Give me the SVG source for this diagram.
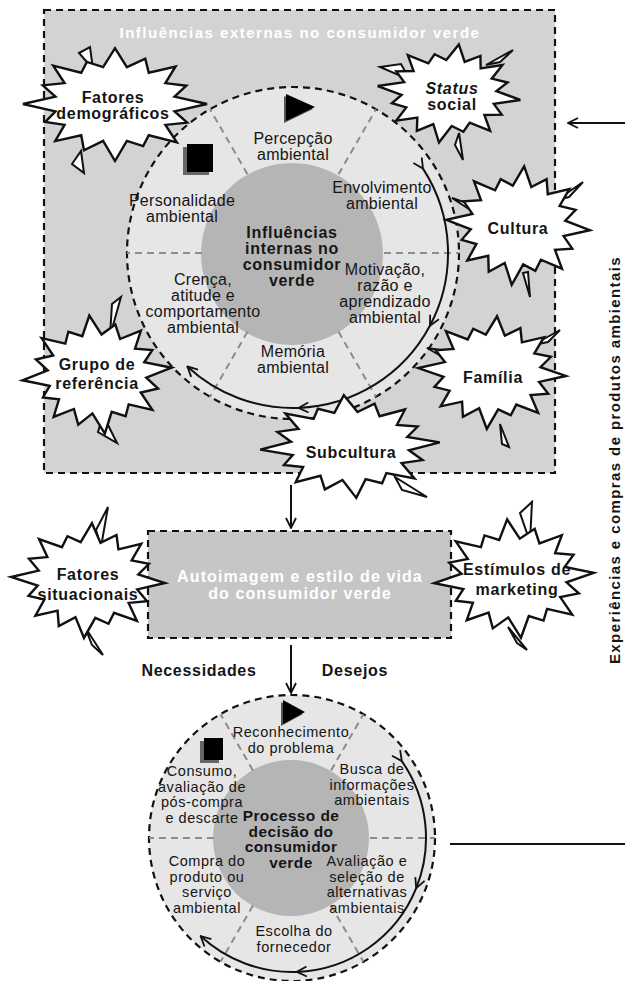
<svg xmlns="http://www.w3.org/2000/svg" xmlns:xlink="http://www.w3.org/1999/xlink" width="625" height="981" viewBox="0 0 625 981">
<style>
.t{font-family:"Liberation Sans",Arial,sans-serif;font-size:16px;letter-spacing:0.3px;text-anchor:middle;fill:#151515}
.s{font-size:14.5px;letter-spacing:0.55px}
.b{font-weight:bold;letter-spacing:0.7px}
.bs{font-weight:bold;font-size:15.5px;letter-spacing:0.4px}
.w{fill:#ffffff;font-weight:bold}
.dash{fill:none;stroke:#111;stroke-width:2.2;stroke-dasharray:7 5}
.div{stroke:#8c8c8c;stroke-width:2;stroke-dasharray:7 5}
.arc{fill:none;stroke:#111;stroke-width:2;marker-start:url(#ah);marker-mid:url(#ah);marker-end:url(#ah)}
.ln{fill:none;stroke:#111;stroke-width:2}
.burst{fill:#fff;stroke:#111;stroke-width:2.4;stroke-linejoin:miter;vector-effect:non-scaling-stroke}
.shard{fill:#fff;stroke:#111;stroke-width:2;stroke-linejoin:miter}
</style>
<defs>
<marker id="ah" viewBox="0 0 12 12" refX="11" refY="6" markerWidth="12" markerHeight="12" markerUnits="userSpaceOnUse" orient="auto"><path d="M1,1 L11,6 L1,11" fill="none" stroke="#111" stroke-width="1.8"/></marker>
<polygon id="burst" class="burst" points="100,0 64.7,12.9 78.5,32.6 54.8,36.7 67.2,67.2 36.7,54.8 30.6,73.9 12.9,64.7 0,100 -12.9,64.7 -33.7,81.3 -36.7,54.8 -65,65 -54.8,36.7 -75.8,31.4 -64.7,12.9 -100,0 -64.7,-12.9 -78.5,-32.6 -54.8,-36.7 -67.2,-67.2 -36.7,-54.8 -30.6,-73.9 -12.9,-64.7 0,-98 12.9,-64.7 32.9,-79.5 36.7,-54.8 65.8,-65.8 54.8,-36.7 77.6,-32.1 64.7,-12.9"/>
</defs>

<!-- external influences box -->
<g id="externas">
<rect x="44" y="10" width="511" height="463" fill="#d3d3d3"/>
<rect x="44" y="10" width="511" height="463" class="dash"/>
<text class="t w" x="300" y="38" style="font-size:15px;letter-spacing:1.5px">Influências externas no consumidor verde</text>
</g>

<!-- internal influences circle -->
<g id="internas">
<circle cx="293" cy="253" r="166" fill="#e6e6e6"/>
<circle cx="293" cy="253" r="166" class="dash"/>
<circle cx="292" cy="254" r="91" fill="#b5b5b5"/>
<line class="div" x1="384" y1="253" x2="459" y2="253"/>
<line class="div" x1="338.5" y1="331.8" x2="376" y2="396.8"/>
<line class="div" x1="247.5" y1="331.8" x2="210" y2="396.8"/>
<line class="div" x1="202" y1="253" x2="127" y2="253"/>
<line class="div" x1="247.5" y1="174.2" x2="210" y2="109.2"/>
<line class="div" x1="338.5" y1="174.2" x2="376" y2="109.2"/>
<polygon points="284,96 313,109 284,123" fill="#555"/>
<polygon points="286,94 315,107 286,121" fill="#000"/>
<rect x="183" y="147" width="26" height="28" fill="#666"/>
<rect x="187" y="144" width="26" height="28" fill="#000"/>
<text class="t"><tspan x="293" y="144">Percepção</tspan><tspan x="293" y="160">ambiental</tspan></text>
<text class="t"><tspan x="382" y="193">Envolvimento</tspan><tspan x="382" y="209">ambiental</tspan></text>
<text class="t"><tspan x="182" y="206">Personalidade</tspan><tspan x="182" y="222">ambiental</tspan></text>
<text class="t"><tspan x="385" y="275">Motivação,</tspan><tspan x="385" y="291">razão e</tspan><tspan x="385" y="307">aprendizado</tspan><tspan x="385" y="323">ambiental</tspan></text>
<text class="t"><tspan x="203" y="285">Crença,</tspan><tspan x="203" y="301">atitude e</tspan><tspan x="203" y="317">comportamento</tspan><tspan x="203" y="333">ambiental</tspan></text>
<text class="t"><tspan x="293" y="357">Memória</tspan><tspan x="293" y="373">ambiental</tspan></text>
<text class="t b"><tspan x="292" y="238">Influências</tspan><tspan x="292" y="254">internas no</tspan><tspan x="292" y="270">consumidor</tspan><tspan x="292" y="286">verde</tspan></text>
</g>

<!-- middle box -->
<g id="autoimagem">
<rect x="148" y="531" width="303" height="107" fill="#c6c6c6"/>
<rect x="148" y="531" width="303" height="107" class="dash"/>
<text class="t w" style="letter-spacing:1.1px"><tspan x="300" y="582">Autoimagem e estilo de vida</tspan><tspan x="300" y="599">do consumidor verde</tspan></text>
</g>

<!-- decision process circle -->
<g id="processo">
<circle cx="292" cy="838" r="143" fill="#e6e6e6"/>
<circle cx="292" cy="838" r="143" class="dash"/>
<circle cx="291" cy="838" r="78" fill="#b5b5b5"/>
<line class="div" x1="370" y1="838" x2="435" y2="838"/>
<line class="div" x1="331" y1="905.5" x2="363.5" y2="961.8"/>
<line class="div" x1="253" y1="905.5" x2="220.5" y2="961.8"/>
<line class="div" x1="214" y1="838" x2="149" y2="838"/>
<line class="div" x1="253" y1="770.5" x2="220.5" y2="714.2"/>
<line class="div" x1="331" y1="770.5" x2="363.5" y2="714.2"/>
<polygon points="281,702 303,714 281,726" fill="#555"/>
<polygon points="283,700 305,712 283,724" fill="#000"/>
<rect x="200" y="741" width="19" height="22" fill="#666"/>
<rect x="204" y="738" width="19" height="22" fill="#000"/>
<text class="t s"><tspan x="291" y="737">Reconhecimento</tspan><tspan x="291" y="753">do problema</tspan></text>
<text class="t s"><tspan x="372" y="774">Busca de</tspan><tspan x="372" y="789.5">informações</tspan><tspan x="372" y="805">ambientais</tspan></text>
<text class="t s"><tspan x="367" y="866">Avaliação e</tspan><tspan x="367" y="881.5">seleção de</tspan><tspan x="367" y="897">alternativas</tspan><tspan x="367" y="912.5">ambientais</tspan></text>
<text class="t s"><tspan x="294" y="936">Escolha do</tspan><tspan x="294" y="951.5">fornecedor</tspan></text>
<text class="t s"><tspan x="207" y="866">Compra do</tspan><tspan x="207" y="881.5">produto ou</tspan><tspan x="207" y="897">serviço</tspan><tspan x="207" y="912.5">ambiental</tspan></text>
<text class="t s"><tspan x="202" y="776">Consumo,</tspan><tspan x="202" y="791.5">avaliação de</tspan><tspan x="202" y="807">pós-compra</tspan><tspan x="202" y="822.5">e descarte</tspan></text>
<text class="t bs"><tspan x="291" y="821">Processo de</tspan><tspan x="291" y="836.5">decisão do</tspan><tspan x="291" y="852">consumidor</tspan><tspan x="291" y="867.5">verde</tspan></text>
</g>

<!-- connectors -->
<g id="connectors">
<path class="arc" d="M423,168.6 A155,155 0 0 1 429.9,325.8 A155,155 0 0 1 298.4,407.9 A155,155 0 0 1 187.3,366.4"/>
<path class="arc" d="M401.8,761.1 A134,134 0 0 1 416.2,888.2 A134,134 0 0 1 296.7,971.9 A134,134 0 0 1 200.6,936"/>
<line class="ln" x1="291" y1="485" x2="291" y2="528" marker-end="url(#ah)"/>
<line class="ln" x1="291" y1="645" x2="291" y2="693" marker-end="url(#ah)"/>
<line class="ln" x1="625" y1="123" x2="568" y2="123" marker-end="url(#ah)"/>
<line class="ln" x1="450" y1="844" x2="625" y2="844"/>
<text class="t b" x="199" y="676">Necessidades</text>
<text class="t b" x="355" y="676">Desejos</text>
<text class="t b" transform="translate(620,460) rotate(-90)" style="font-size:15px;letter-spacing:1.4px" x="0" y="0">Experiências e compras de produtos ambientais</text>
</g>

<!-- bursts -->
<g id="fatores-demograficos">
<polygon class="shard" points="79,53 90,47 93,69"/>
<polygon class="shard" points="72,164 81,151 84,173"/>
<use xlink:href="#burst" href="#burst" transform="translate(115,104) scale(0.92,0.57)"/>
<text class="t b"><tspan x="113" y="103">Fatores</tspan><tspan x="113" y="119">demográficos</tspan></text>
</g>
<g id="status-social">
<polygon class="shard" points="380,67 401,64 410,80"/>
<polygon class="shard" points="486,65 513,50 500,62"/>
<polygon class="shard" points="455,145 459,133 463,160"/>
<use xlink:href="#burst" href="#burst" transform="translate(449,93) scale(0.72,0.5) rotate(8)"/>
<text class="t b"><tspan x="452" y="94" font-style="italic">Status</tspan><tspan x="452" y="110">social</tspan></text>
</g>
<g id="cultura">
<polygon class="shard" points="452,198 470,204 478,215"/>
<polygon class="shard" points="557,200 583,182 569,197"/>
<polygon class="shard" points="523,273 528,272 530,297"/>
<use xlink:href="#burst" href="#burst" transform="translate(518,225) scale(0.72,0.6) rotate(5)"/>
<text class="t b" x="518" y="234">Cultura</text>
</g>
<g id="grupo-referencia">
<polygon class="shard" points="112,304 121,297 110,336"/>
<polygon class="shard" points="98,432 103,415 117,443"/>
<use xlink:href="#burst" href="#burst" transform="translate(97,374) scale(0.75,0.6) rotate(-6)"/>
<text class="t b"><tspan x="97" y="370">Grupo de</tspan><tspan x="97" y="389">referência</tspan></text>
</g>
<g id="familia">
<polygon class="shard" points="427,348 455,352 448,360"/>
<polygon class="shard" points="533,345 560,330 548,342"/>
<polygon class="shard" points="500,424 502,444 509,447"/>
<use xlink:href="#burst" href="#burst" transform="translate(492,372) scale(0.74,0.57) rotate(4)"/>
<text class="t b" x="493" y="383">Família</text>
</g>
<g id="subcultura">
<polygon class="shard" points="395,477 427,497 402,490"/>
<use xlink:href="#burst" href="#burst" transform="translate(350,446) scale(0.9,0.52) rotate(-4)"/>
<text class="t b" x="351" y="458">Subcultura</text>
</g>
<g id="fatores-situacionais">
<polygon class="shard" points="96,530 108,507 101,547"/>
<polygon class="shard" points="85,627 103,655 92,645"/>
<use xlink:href="#burst" href="#burst" transform="translate(88,580) scale(0.77,0.58) rotate(3)"/>
<text class="t b"><tspan x="88" y="580">Fatores</tspan><tspan x="88" y="600">situacionais</tspan></text>
</g>
<g id="estimulos-marketing">
<polygon class="shard" points="520,513 532,502 530,542"/>
<polygon class="shard" points="508,627 527,650 517,643"/>
<use xlink:href="#burst" href="#burst" transform="translate(514,578) scale(0.8,0.6) rotate(-5)"/>
<text class="t b"><tspan x="517" y="575">Estímulos de</tspan><tspan x="517" y="595">marketing</tspan></text>
</g>
</svg>
